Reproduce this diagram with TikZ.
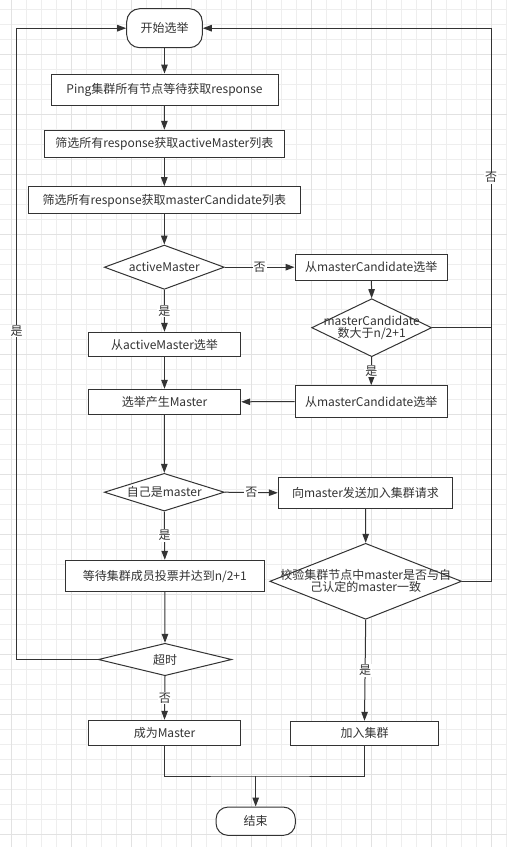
\documentclass[tikz,border=0pt]{standalone}
\usepackage{fontspec}
\setmainfont{Noto Sans CJK SC}
\usetikzlibrary{arrows.meta,shapes.geometric}
\definecolor{ink}{RGB}{51,51,51}
\definecolor{gridminor}{RGB}{238,238,238}
\definecolor{gridmajor}{RGB}{226,226,226}
\tikzset{
  box/.style={draw=ink,line width=1pt,fill=white,inner sep=0pt,text=ink,font=\fontsize{12}{14}\selectfont},
  term/.style={box,rounded corners=13pt},
  dia/.style={draw=ink,line width=1pt,fill=white,diamond,inner sep=0pt},
  dtext/.style={text=ink,font=\fontsize{12}{14}\selectfont,align=center,inner sep=0pt},
  lab/.style={fill=white,text=ink,inner sep=1pt,font=\fontsize{12}{14}\selectfont},
  conn/.style={draw=ink,line width=1pt,-{Triangle[length=9pt,width=6.5pt]}},
  plain/.style={draw=ink,line width=1pt}
}
\begin{document}
\begin{tikzpicture}[x=1pt,y=-1pt]
\useasboundingbox (0,0) rectangle (507,847);
\fill[white] (0,0) rectangle (507,847);
% grid
\foreach \i in {0,...,33}{
  \pgfmathsetmacro\gx{11.7+15*\i}
  \draw[gridminor,line width=0.9pt] (\gx,0) -- (\gx,847);
}
\foreach \j in {0,...,56}{
  \pgfmathsetmacro\gy{9.3+15*\j}
  \draw[gridminor,line width=0.9pt] (0,\gy) -- (507,\gy);
}
\foreach \i in {0,...,8}{
  \pgfmathsetmacro\gx{11.7+60*\i}
  \draw[gridmajor,line width=0.9pt] (\gx,0) -- (\gx,847);
}
\foreach \j in {-1,...,13}{
  \pgfmathsetmacro\gy{54.3+60*\j}
  \draw[gridmajor,line width=0.9pt] (0,\gy) -- (507,\gy);
}
% nodes
\node[term,minimum width=75.6pt,minimum height=39pt] (start) at (164.5,28.2) {开始选举};
\node[box,minimum width=227pt,minimum height=31.3pt] (ping) at (164.5,89.7) {Ping集群所有节点等待获取response};
\node[box,minimum width=240pt,minimum height=27pt] (act) at (164.3,143.8) {筛选所有response获取activeMaster列表};
\node[box,minimum width=272pt,minimum height=27.3pt] (cand) at (164.3,200.3) {筛选所有response获取masterCandidate列表};
\node[dia,minimum width=120pt,minimum height=44.3pt] (d1) at (164.3,267.2) {};
\node[dtext] (d1t) at (d1.center) {activeMaster};
\node[box,minimum width=152.3pt,minimum height=26.3pt] (mc1) at (371.2,267.2) {从masterCandidate选举};
\node[dia,minimum width=120pt,minimum height=58pt] (d2) at (371.7,327.7) {};
\node[dtext] (d2t) at (d2.center) {masterCandidate\\[-2pt]数大于n/2+1};
\node[box,minimum width=152.3pt,minimum height=31.6pt] (mc2) at (371.2,401.5) {从masterCandidate选举};
\node[box,minimum width=152.4pt,minimum height=24.4pt] (fa) at (164.5,344.5) {从activeMaster选举};
\node[box,minimum width=152.4pt,minimum height=25pt] (gen) at (164.5,401.8) {选举产生Master};
\node[dia,minimum width=120pt,minimum height=37.7pt] (d3) at (164.3,492.2) {};
\node[dtext] (d3t) at (d3.center) {自己是master};
\node[box,minimum width=174.4pt,minimum height=31pt] (send) at (365.5,492.8) {向master发送加入集群请求};
\node[dia,minimum width=191.7pt,minimum height=76pt] (d4) at (365.7,581.3) {};
\node[dtext] (d4t) at (d4.center) {校验集群节点中master是否与自\\[-2pt]己认定的master一致};
\node[box,minimum width=199pt,minimum height=31.4pt] (wait) at (164.8,576) {等待集群成员投票并达到n/2+1};
\node[dia,minimum width=133.4pt,minimum height=32.4pt] (d5) at (165,659.5) {};
\node[dtext] (d5t) at (d5.center) {超时};
\node[box,minimum width=152.4pt,minimum height=25pt] (bm) at (164.5,732.8) {成为Master};
\node[box,minimum width=148.4pt,minimum height=24pt] (join) at (364.5,733.3) {加入集群};
\node[term,minimum width=79.3pt,minimum height=28.3pt,rounded corners=12pt] (end) at (255.7,821.2) {结束};
% helper coordinates
\coordinate (lt) at (16.7,28.2);
\coordinate (lb) at (16.7,659.5);
\coordinate (rt) at (491,28.2);
\coordinate (r2) at (491,327.7);
\coordinate (r4) at (491,581.3);
\coordinate (mg) at (255.7,776);
% connectors
\draw[conn] (start) -- (ping);
\draw[conn] (ping) -- (act);
\draw[conn] (act) -- (cand);
\draw[conn] (cand) -- (d1.north);
\draw[conn] (d1.east) -- (mc1.west) node[lab,pos=0.5] (n1) {否};
\draw[conn] (mc1) -- (d2.north);
\draw[conn] (d2.south) -- (mc2.north) node[lab,pos=0.5] (y2) {是};
\draw[conn] (d1.south) -- (fa.north) node[lab,pos=0.5] (y1) {是};
\draw[conn] (fa) -- (gen);
\draw[conn] (mc2.west) -- (gen.east);
\draw[conn] (gen) -- (d3.north);
\draw[conn] (d3.east) -- (send.west) node[lab,pos=0.5] (n3) {否};
\draw[conn] (send) -- (d4.north);
\draw[conn] (d3.south) -- (wait.north) node[lab,pos=0.5] (y4) {是};
\draw[conn] (wait) -- (d5.north);
\draw[conn] (d5.south) -- (bm.north) node[lab,pos=0.5] (n4) {否};
\draw[conn] (d4.south) -- (join.north) node[lab,pos=0.5] (y5) {是};
\draw[conn] (d5.west) -- (lb) -- (lt) -- (start.west);
\node[lab] (y3) at (16.7,331) {是};
\draw[plain] (d4.east) -- (r4) -- (r2);
\draw[conn] (d2.east) -- (r2) -- (rt) -- (start.east);
\node[lab] (n2) at (491,177.7) {否};
\draw[plain] (bm.south) |- (mg) -| (join.south);
\draw[conn] (mg) -- (end.north);
\end{tikzpicture}
\end{document}
